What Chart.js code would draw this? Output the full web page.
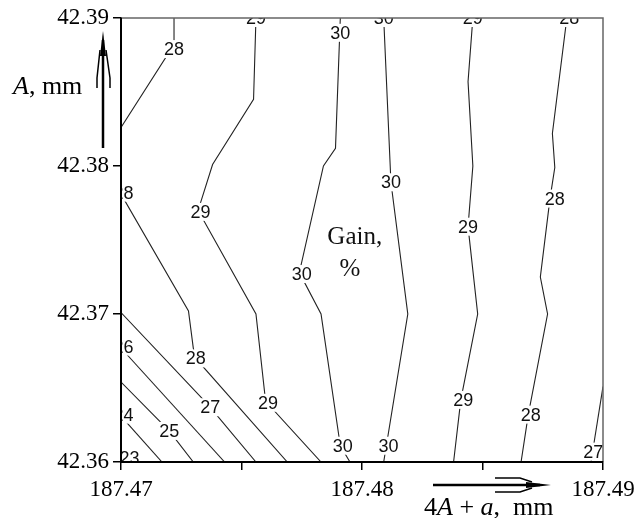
<!DOCTYPE html>
<html>
<head>
<meta charset="utf-8">
<script src="https://cdn.jsdelivr.net/npm/chart.js@4.4.1/dist/chart.umd.min.js"></script>
<style>
  html, body { margin: 0; padding: 0; background: #fff; }
  #wrap { width: 643px; height: 518px; }
</style>
</head>
<body>
<div id="wrap"><canvas id="contour" width="643" height="518"></canvas></div>
<script>
// 軸の範囲と目盛り
const xMin = 187.47, xMax = 187.49, xStep = 0.005;
const yMin = 42.36, yMax = 42.39, yStep = 0.01;
const xTickLabels = ['187.47', '187.48', '187.49'];
const yTickLabels = ['42.36', '42.37', '42.38', '42.39'];

// 等高線 [x, y]
const line23 = [[187.47, 42.3608], [187.4704, 42.36]];
const line24 = [[187.47, 42.3631], [187.4717, 42.36]];
const line25 = [[187.47, 42.3654], [187.4720, 42.3621], [187.4730, 42.36]];
const line26 = [[187.47, 42.3677], [187.4743, 42.36]];
const line27a = [[187.47, 42.3701], [187.4736, 42.3639], [187.4756, 42.36]];
const line28a = [[187.4722, 42.39], [187.4722, 42.3882], [187.47, 42.3826]];
const line28b = [[187.47, 42.3781], [187.4728, 42.3702], [187.4730, 42.3677], [187.4731, 42.3670], [187.4769, 42.36]];
const line29a = [[187.4756, 42.39], [187.4755, 42.3845], [187.4738, 42.3801], [187.4732, 42.3770], [187.4756, 42.3700], [187.4760, 42.3641], [187.4783, 42.36]];
const line30a = [[187.4791, 42.39], [187.4789, 42.3812], [187.4784, 42.3800], [187.4774, 42.3728], [187.4783, 42.3700], [187.4791, 42.3611], [187.4795, 42.36]];
const line30b = [[187.4809, 42.39], [187.4812, 42.3789], [187.4819, 42.3700], [187.4809, 42.36]];
const line29b = [[187.4846, 42.39], [187.4844, 42.3857], [187.4846, 42.3800], [187.4844, 42.3759], [187.4848, 42.3700], [187.4841, 42.3642], [187.4838, 42.36]];
const line28c = [[187.4885, 42.39], [187.4879, 42.3822], [187.4880, 42.3799], [187.4878, 42.3778], [187.4874, 42.3725], [187.4877, 42.3700], [187.4869, 42.3632], [187.4866, 42.36]];
const line27b = [[187.49, 42.3651], [187.4895, 42.36]];

// 等高線ラベル
const labelText = ['23', '24', '25', '26', '27', '28', '28', '28', '29', '29', '29',
                   '30', '30', '30', '30', '30', '30', '29', '29', '29', '28', '28', '28', '27'];
const labelX = [187.47035, 187.4701, 187.4720, 187.4701, 187.4737, 187.4701, 187.4731, 187.4722, 187.4756, 187.4733, 187.4761,
                187.4791, 187.4775, 187.4792, 187.4809, 187.4812, 187.4811, 187.4846, 187.4844, 187.4842, 187.4886, 187.4880, 187.4870, 187.4896];
const labelY = [42.3603, 42.3632, 42.3621, 42.3678, 42.3637, 42.3782, 42.3670, 42.3879, 42.39, 42.3769, 42.3640,
                42.3890, 42.3727, 42.3611, 42.39, 42.3789, 42.3611, 42.39, 42.3759, 42.3642, 42.39, 42.3778, 42.3632, 42.3607];

// 注記
const noteText = ['Gain,', '%'];
const noteX = [187.4797, 187.4795];
const noteY = [42.3752, 42.3730];

const contourLines = [line23, line24, line25, line26, line27a, line28a, line28b, line29a,
                      line30a, line30b, line29b, line28c, line27b];

const serif = '"Liberation Serif", "Times New Roman", serif';
const sans = '"Liberation Sans", Arial, sans-serif';

// ラベル・枠・矢印を描くプラグイン
const decorPlugin = {
    id: 'decor',
    afterDatasetsDraw(chart) {
        const ctx = chart.ctx;
        const area = chart.chartArea;
        const xs = chart.scales.x, ys = chart.scales.y;
        ctx.save();
        ctx.beginPath();
        ctx.rect(area.left + 1, area.top, area.right - area.left - 1, area.bottom - area.top - 1);
        ctx.clip();
        ctx.font = '18px ' + sans;
        ctx.textAlign = 'center';
        ctx.textBaseline = 'middle';
        labelText.forEach((t, i) => {
            const px = xs.getPixelForValue(labelX[i]);
            const py = ys.getPixelForValue(labelY[i]);
            const w = ctx.measureText(t).width + 2;
            ctx.fillStyle = '#fff';
            ctx.fillRect(px - w / 2, py - 9, w, 18);
            ctx.fillStyle = '#111';
            ctx.fillText(t, px, py + 1);
        });
        ctx.font = '25px ' + serif;
        noteText.forEach((t, i) => {
            ctx.fillText(t, xs.getPixelForValue(noteX[i]), ys.getPixelForValue(noteY[i]));
        });
        ctx.restore();
    },
    afterDraw(chart) {
        const ctx = chart.ctx;
        const a = chart.chartArea;
        ctx.save();
        // 上・右の枠（灰色）
        ctx.strokeStyle = '#666';
        ctx.lineWidth = 1.5;
        ctx.beginPath();
        ctx.moveTo(a.left, a.top);
        ctx.lineTo(a.right, a.top);
        ctx.lineTo(a.right, a.bottom);
        ctx.stroke();
        // 左・下の軸（黒）
        ctx.strokeStyle = '#000';
        ctx.lineWidth = 2;
        ctx.beginPath();
        ctx.moveTo(a.left, a.top);
        ctx.lineTo(a.left, a.bottom);
        ctx.lineTo(a.right, a.bottom);
        ctx.stroke();

        // 縦軸の矢印
        ctx.fillStyle = '#000';
        ctx.lineWidth = 2.5;
        ctx.beginPath();
        ctx.moveTo(103, 148);
        ctx.lineTo(103, 40);
        ctx.stroke();
        ctx.beginPath();
        ctx.moveTo(103, 31);
        ctx.lineTo(106, 56);
        ctx.lineTo(100, 56);
        ctx.closePath();
        ctx.fill();
        ctx.lineWidth = 1.5;
        ctx.beginPath();
        ctx.moveTo(100, 50); ctx.lineTo(97, 78); ctx.lineTo(97, 88);
        ctx.moveTo(106, 50); ctx.lineTo(110, 78); ctx.lineTo(110, 88);
        ctx.stroke();

        // 横軸の矢印
        ctx.lineWidth = 2.5;
        ctx.beginPath();
        ctx.moveTo(433, 485);
        ctx.lineTo(540, 485);
        ctx.stroke();
        ctx.beginPath();
        ctx.moveTo(551, 485);
        ctx.lineTo(526, 482);
        ctx.lineTo(526, 488);
        ctx.closePath();
        ctx.fill();
        ctx.lineWidth = 1.5;
        ctx.beginPath();
        ctx.moveTo(495, 478); ctx.lineTo(520, 478); ctx.lineTo(532, 482);
        ctx.moveTo(495, 492); ctx.lineTo(520, 492); ctx.lineTo(532, 488);
        ctx.stroke();

        // 軸タイトル
        ctx.textBaseline = 'alphabetic';
        ctx.textAlign = 'left';
        let x = 13;
        ctx.font = 'italic 26px ' + serif;
        ctx.fillText('A', x, 94);
        x += ctx.measureText('A').width;
        ctx.font = '26px ' + serif;
        ctx.fillText(', mm', x, 94);

        x = 424;
        const parts = [['4', false], ['A', true], [' + ', false], ['a', true], [',  mm', false]];
        parts.forEach(([t, it]) => {
            ctx.font = (it ? 'italic ' : '') + '26px ' + serif;
            ctx.fillText(t, x, 515);
            x += ctx.measureText(t).width;
        });
        ctx.restore();
    }
};

new Chart(document.getElementById('contour'), {
    type: 'scatter',
    data: {
        datasets: contourLines.map(pts => ({
            data: pts.map(p => ({ x: p[0], y: p[1] })),
            showLine: true,
            borderColor: '#222',
            borderWidth: 1.1,
            pointRadius: 0,
            tension: 0
        }))
    },
    options: {
        responsive: false,
        animation: false,
        layout: { padding: { top: 18, right: 40, bottom: 0, left: 0 } },
        plugins: { legend: { display: false }, tooltip: { enabled: false } },
        scales: {
            x: {
                type: 'linear',
                min: xMin, max: xMax,
                afterFit: s => { s.height = 56; },
                border: { display: true, color: '#000', width: 2 },
                grid: { display: true, drawOnChartArea: false, drawTicks: true, tickLength: 8, color: '#000', lineWidth: 1.5 },
                ticks: {
                    stepSize: xStep,
                    autoSkip: false,
                    maxRotation: 0,
                    padding: 6,
                    color: '#000',
                    font: { family: serif, size: 23 },
                    callback: v => {
                        const s = Number(v).toFixed(2);
                        return (Math.abs(v - Number(s)) < 1e-7 && xTickLabels.includes(s)) ? s : '';
                    }
                }
            },
            y: {
                type: 'linear',
                min: yMin, max: yMax,
                afterFit: s => { s.width = 121; },
                border: { display: true, color: '#000', width: 2 },
                grid: { display: true, drawOnChartArea: false, drawTicks: true, tickLength: 8, color: '#000', lineWidth: 1.5 },
                ticks: {
                    stepSize: yStep,
                    padding: 4,
                    color: '#000',
                    font: { family: serif, size: 23 },
                    callback: v => {
                        const s = Number(v).toFixed(2);
                        return yTickLabels.includes(s) ? s : '';
                    }
                }
            }
        }
    },
    plugins: [decorPlugin]
});
</script>
</body>
</html>
